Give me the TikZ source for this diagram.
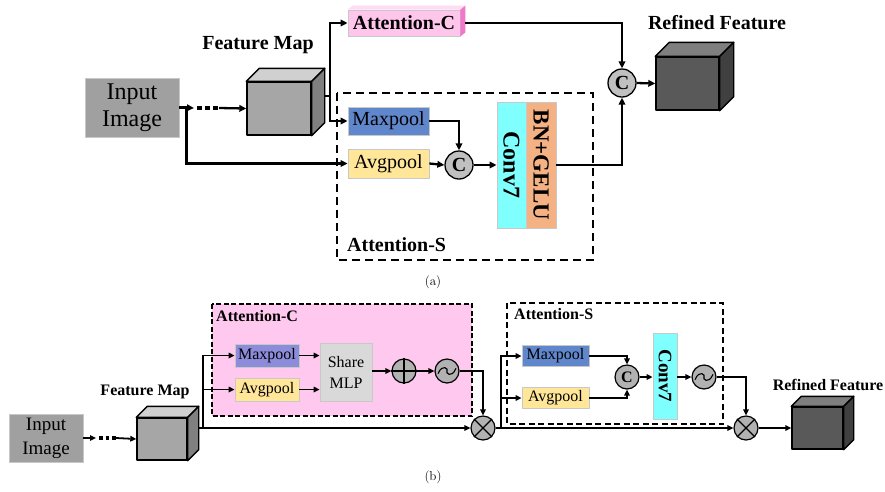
\documentclass[tikz,border=0pt]{standalone}
\usepackage{fontspec}
\newfontfamily\tnr{Liberation Serif}
\usetikzlibrary{arrows.meta,calc}
\definecolor{ingray}{RGB}{160,160,160}
\definecolor{lbord}{RGB}{200,200,200}
\definecolor{fmfront}{RGB}{166,166,166}
\definecolor{fmtop}{RGB}{208,208,208}
\definecolor{fmside}{RGB}{128,128,128}
\definecolor{rffront}{RGB}{89,89,89}
\definecolor{rftop}{RGB}{127,127,127}
\definecolor{rfside}{RGB}{64,64,64}
\definecolor{pinkf}{RGB}{255,198,236}
\definecolor{pinkt}{RGB}{255,220,244}
\definecolor{pinks}{RGB}{240,120,200}
\definecolor{pinkbg}{RGB}{255,200,238}
\definecolor{mpblue}{RGB}{96,134,204}
\definecolor{mplav}{RGB}{140,140,218}
\definecolor{avyel}{RGB}{255,230,153}
\definecolor{cyanb}{RGB}{128,255,255}
\definecolor{bnor}{RGB}{244,177,131}
\definecolor{cgray}{RGB}{192,192,192}
\definecolor{cgrayb}{RGB}{178,178,178}
\definecolor{mlpg}{RGB}{217,217,217}
\tikzset{
  box/.style={draw=lbord, line width=0.8, inner sep=0, font=\tnr},
  cubeface/.style={draw=black, line width=1.4, line join=round},
  arra/.style={line width=2.3, -{Triangle[length=7pt,width=6.5pt]}},
  lina/.style={line width=2.3},
  arrb/.style={line width=1.8, -{Triangle[length=6pt,width=5.5pt]}},
  linb/.style={line width=1.8},
  dotsa/.style={line width=4.2, dash pattern=on 4.5pt off 3.5pt},
  dotsb/.style={line width=3.4, dash pattern=on 3.5pt off 3pt},
  circa/.style={circle, draw=black, line width=1.3, fill=cgray, minimum size=28, inner sep=0, font=\tnr\bfseries\fontsize{20}{20}\selectfont},
  circb/.style={circle, draw=black, line width=1.2, fill=cgrayb, minimum size=24, inner sep=0, font=\tnr\bfseries\fontsize{16}{16}\selectfont},
  lbla/.style={font=\tnr\bfseries\fontsize{20}{22}\selectfont, inner sep=0},
  lblb/.style={font=\tnr\bfseries\fontsize{16}{18}\selectfont, inner sep=0},
}
\newcommand{\mycube}[4]{% name, depth, top colour, side colour
  \filldraw[cubeface, fill=#3] (#1.north west) -- ++(#2,-#2) -- ($(#1.north east)+(#2,-#2)$) -- (#1.north east) -- cycle;
  \filldraw[cubeface, fill=#4] (#1.north east) -- ++(#2,-#2) -- ($(#1.south east)+(#2,-#2)$) -- (#1.south east) -- cycle;
}
\newcommand{\sigmark}[2]{% name, half width
  \draw[line width=1.1] ($(#1.center)+(-#2,#2*0.3)$) .. controls ($(#1.center)+(-#2*0.5,-#2*0.9)$) and ($(#1.center)+(#2*0.2,-#2*0.2)$) .. (#1.center) .. controls ($(#1.center)+(-#2*0.2,#2*0.2)$) and ($(#1.center)+(#2*0.5,#2*0.9)$) .. ($(#1.center)+(#2,-#2*0.3)$);
}
\begin{document}
\begin{tikzpicture}[x=1pt,y=-1pt]
\useasboundingbox[fill=white] (0,0) rectangle (885,491);

% ================= (a) =================
\node[box, fill=ingray, minimum width=94, minimum height=59, align=center, font=\tnr\fontsize{24}{27}\selectfont] (inA) at (132,107.5) {Input\\Image};
\node[cubeface, draw, fill=fmfront, minimum width=64, minimum height=53, inner sep=0] (fmA) at (279,108.5) {};
\mycube{fmA}{13}{fmtop}{fmside}
\node[lbla] (fmAl) at (258,45) {Feature Map};

\node[box, draw=lbord, fill=pinkf, minimum width=112, minimum height=26, font=\tnr\bfseries\fontsize{20}{20}\selectfont] (attCA) at (404,23) {Attention-C};
\fill[pinkt] (attCA.north west) -- ++(5,-4) -- ($(attCA.north east)+(5,-4)$) -- (attCA.north east) -- cycle;
\fill[pinks] (attCA.north east) -- ++(5,-4) -- ($(attCA.south east)+(5,-4)$) -- (attCA.south east) -- cycle;

\node[circa] (cTop) at (622,83) {C};
\node[cubeface, draw, fill=rffront, minimum width=63, minimum height=53, inner sep=0] (refA) at (687.5,83.5) {};
\mycube{refA}{14}{rftop}{rfside}
\node[lbla] (refAl) at (717,23) {Refined Feature};

\draw[line width=1.6, dash pattern=on 8pt off 5pt] (337,93) rectangle (593,260);
\node[lbla, anchor=west] (attSAl) at (347,245) {Attention-S};

\node[box, fill=mpblue, minimum width=81, minimum height=28, font=\tnr\fontsize{20}{20}\selectfont] (mpA) at (388.5,121) {Maxpool};
\node[box, fill=avyel, minimum width=81, minimum height=29, font=\tnr\fontsize{20}{20}\selectfont] (avA) at (388.5,163.5) {Avgpool};
\node[circa] (cS) at (459,165) {C};
\node[box, fill=cyanb, minimum width=29, minimum height=126, font=\tnr\bfseries\fontsize{24}{24}\selectfont] (convA) at (511.5,165) {\rotatebox{-90}{Conv7}};
\node[box, fill=bnor, minimum width=30, minimum height=126, font=\tnr\bfseries\fontsize{23}{23}\selectfont] (bnA) at (541,165) {\rotatebox{-90}{BN+GELU}};

\coordinate (dA1) at (194,108);
\coordinate (dA2) at (219,108);
\coordinate (fmAr) at (324,96);
\draw[arra] (inA.east) -- (dA1);
\draw[dotsa] ($(dA1)+(3,0)$) -- (dA2);
\draw[arra] (dA2) -- (fmA.west);
\draw[arra] (inA.east) -- ++(7,0) |- (avA.west);
\draw[lina] (fmAr) -- ++(6,0);
\draw[arra] (fmAr) -- ++(6,0) |- (attCA.west);
\draw[arra] (fmAr) -- ++(6,0) |- (mpA.west);
\draw[arra] ($(attCA.east)+(5,0)$) -| (cTop.north);
\draw[arra] (cTop.east) -- (refA.west);
\draw[arra] (mpA.east) -| (cS.north);
\draw[arra] (avA.east) -- (cS.west);
\draw[arra] (cS.east) -- (convA.west);
\draw[arra] (bnA.east) -| (cTop.south);

\node[inner sep=0, font=\fontsize{13}{13}\selectfont] (capA) at (433,282) {(a)};

% ================= (b) =================
\fill[pinkbg] (212,304) rectangle (472,416);
\draw[line width=1.2, dash pattern=on 5pt off 2.5pt] (212,304) rectangle (472,416);
\node[lblb, anchor=west] (attCBl) at (216,316) {Attention-C};
\draw[line width=1.3, dash pattern=on 6pt off 3.5pt] (507,303) rectangle (723,424);
\node[lblb, anchor=west] (attSBl) at (514,314) {Attention-S};

\node[box, fill=ingray, minimum width=74, minimum height=48, align=center, font=\tnr\fontsize{19}{24}\selectfont] (inB) at (46,438) {Input\\Image};
\node[cubeface, draw, fill=fmfront, minimum width=50, minimum height=42, inner sep=0] (fmB) at (162,439) {};
\mycube{fmB}{11}{fmtop}{fmside}
\node[lblb] (fmBl) at (145,392) {Feature Map};

\node[box, fill=mplav, minimum width=64, minimum height=23, font=\tnr\fontsize{16}{16}\selectfont] (mpB) at (267,355.5) {Maxpool};
\node[box, fill=avyel, minimum width=64, minimum height=23, font=\tnr\fontsize{16}{16}\selectfont] (avB) at (267,389.5) {Avgpool};
\node[box, fill=mlpg, minimum width=52, minimum height=58, align=center, font=\tnr\fontsize{16}{21}\selectfont] (mlp) at (346,372) {Share\\MLP};
\node[circb] (plus) at (404,371) {};
\draw[line width=1.1] (plus.north) -- (plus.south) (plus.west) -- (plus.east);
\node[circb] (sig1) at (447,371) {};
\sigmark{sig1}{9}
\node[circb] (mul1) at (483,428) {};
\draw[line width=1.1] (mul1.north west) -- (mul1.south east) (mul1.north east) -- (mul1.south west);

\node[box, fill=mpblue, minimum width=67, minimum height=21, font=\tnr\fontsize{16}{16}\selectfont] (mpS) at (555.5,356) {Maxpool};
\node[box, fill=avyel, minimum width=67, minimum height=21, font=\tnr\fontsize{16}{16}\selectfont] (avS) at (555.5,398) {Avgpool};
\node[circb] (cB) at (627,377) {C};
\node[box, fill=cyanb, minimum width=24, minimum height=86, font=\tnr\bfseries\fontsize{19}{19}\selectfont] (convB) at (665,376) {\rotatebox{-90}{Conv7}};
\node[circb] (sig2) at (704,377) {};
\sigmark{sig2}{9}
\node[circb] (mul2) at (746,428) {};
\draw[line width=1.1] (mul2.north west) -- (mul2.south east) (mul2.north east) -- (mul2.south west);

\node[cubeface, draw, fill=rffront, minimum width=51, minimum height=42, inner sep=0] (refB) at (817.5,428) {};
\mycube{refB}{10}{rftop}{rfside}
\node[lblb] (refBl) at (828,385) {Refined Feature};

\coordinate (dB1) at (96,438);
\coordinate (dB2) at (116,438);
\coordinate (fmBr) at (198,428);
\draw[arrb] (inB.east) -- (dB1);
\draw[dotsb] ($(dB1)+(3,0)$) -- (dB2);
\draw[arrb] (dB2) -- (fmB.west);
\draw[arrb] (fmBr) -- (mul1.west);
\draw[arrb] (fmBr) -- ++(5,0) |- (mpB.west);
\draw[arrb] (fmBr) -- ++(5,0) |- (avB.west);
\draw[arrb] (mpB.east) -- (mlp.west |- mpB.east);
\draw[arrb] (avB.east) -- (mlp.west |- avB.east);
\draw[arrb] (mlp.east |- plus.west) -- (plus.west);
\draw[arrb] (plus.east) -- (sig1.west);
\draw[arrb] (sig1.east) -| (mul1.north);
\draw[arrb] (mul1.east) -- (mul2.west);
\draw[arrb] (mul1.east) -- ++(5,0) |- (mpS.west);
\draw[arrb] (mul1.east) -- ++(5,0) |- (avS.west);
\draw[arrb] (mpS.east) -| (cB.north);
\draw[arrb] (avS.east) -| (cB.south);
\draw[arrb] (cB.east) -- (convB.west |- cB.east);
\draw[arrb] (convB.east |- sig2.west) -- (sig2.west);
\draw[arrb] (sig2.east) -| (mul2.north);
\draw[arrb] (mul2.east) -- (refB.west);

\node[inner sep=0, font=\fontsize{13}{13}\selectfont] (capB) at (433,477) {(b)};
\end{tikzpicture}
\end{document}
